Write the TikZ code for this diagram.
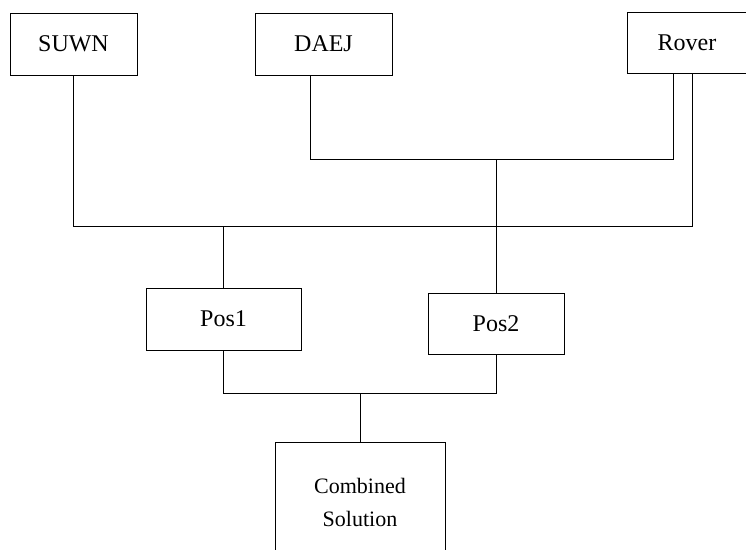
\documentclass[tikz,border=0pt]{standalone}
\usepackage{fontspec}
\setmainfont{Liberation Serif}
\begin{document}
\begin{tikzpicture}[x=1pt,y=-1pt,
  box/.style={draw=black, line width=0.8pt, rectangle, inner sep=0pt,
    font=\fontsize{24}{28}\selectfont},
  wire/.style={draw=black, line width=0.8pt}]
\useasboundingbox (0,0) rectangle (746,549);
% boxes
\node[box, minimum width=127pt, minimum height=62pt] (suwn) at (73.5,44) {SUWN};
\node[box, minimum width=137pt, minimum height=62pt] (daej) at (323.5,44) {DAEJ};
\node[box, minimum width=120pt, minimum height=61pt] (rover) at (687,42.5) {Rover};
\node[box, minimum width=155pt, minimum height=62pt] (pos1) at (223.5,319) {Pos1};
\node[box, minimum width=136pt, minimum height=61pt] (pos2) at (496,323.5) {Pos2};
\node[box, minimum width=170pt, minimum height=120pt, align=center,
  font=\fontsize{22}{33}\selectfont] (comb) at (360,502) {Combined\\Solution};
% rails
\coordinate (hA) at (0,226);
\coordinate (hB) at (0,159);
\coordinate (hC) at (0,393);
\coordinate (da) at (310,0);
\coordinate (ra) at (673,0);
\coordinate (rb) at (692,0);
% connectors
\draw[wire] (suwn.south) |- (hA -| rb) -- (rover.south -| rb);
\draw[wire] (daej.south -| da) |- (hB -| ra) -- (rover.south -| ra);
\draw[wire] (hA -| pos1.north) -- (pos1.north);
\draw[wire] (hB -| pos2.north) -- (pos2.north);
\draw[wire] (pos1.south) |- (hC -| pos2.south) -- (pos2.south);
\draw[wire] (hC -| comb.north) -- (comb.north);
\end{tikzpicture}
\end{document}
